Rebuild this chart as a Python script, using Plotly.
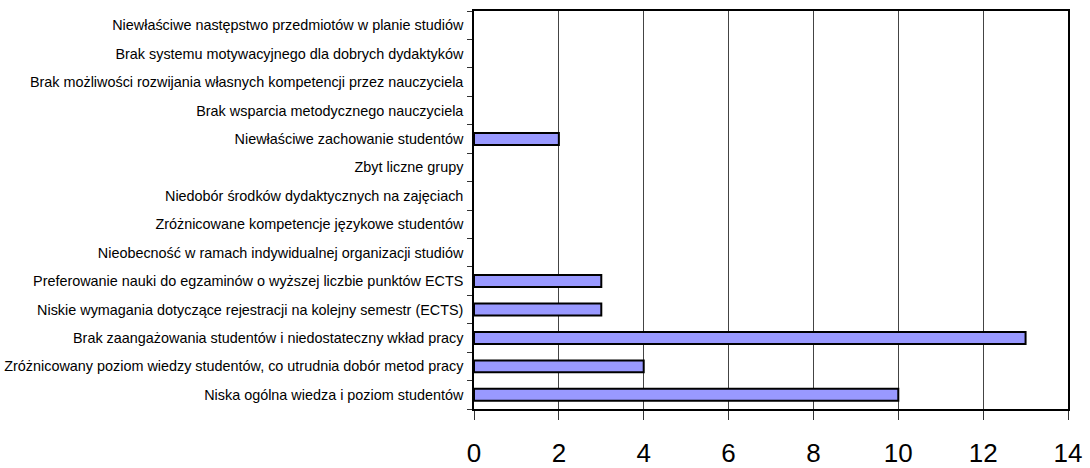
import plotly.graph_objects as go

# Categories listed bottom-to-top, as they appear on the vertical axis
categories = [
    "Niska ogólna wiedza i poziom studentów",
    "Zróżnicowany poziom wiedzy studentów, co utrudnia dobór metod pracy",
    "Brak zaangażowania studentów i niedostateczny wkład pracy",
    "Niskie wymagania dotyczące rejestracji na kolejny semestr (ECTS)",
    "Preferowanie nauki do egzaminów o wyższej liczbie punktów ECTS",
    "Nieobecność w ramach indywidualnej organizacji studiów",
    "Zróżnicowane kompetencje językowe studentów",
    "Niedobór środków dydaktycznych na zajęciach",
    "Zbyt liczne grupy",
    "Niewłaściwe zachowanie studentów",
    "Brak wsparcia metodycznego nauczyciela",
    "Brak możliwości rozwijania własnych kompetencji przez nauczyciela",
    "Brak systemu motywacyjnego dla dobrych dydaktyków",
    "Niewłaściwe następstwo przedmiotów w planie studiów",
]
counts = [10, 4, 13, 3, 3, 0, 0, 0, 0, 2, 0, 0, 0, 0]

x_ticks = [0, 2, 4, 6, 8, 10, 12, 14]

# empty rows get no outline so nothing is drawn on the axis line
outline_widths = [2 if c > 0 else 0 for c in counts]

fig = go.Figure(
    go.Bar(
        x=counts,
        y=categories,
        orientation="h",
        marker=dict(color="#9999FF", line=dict(color="#000000", width=outline_widths)),
        hoverinfo="x+y",
    )
)

fig.update_layout(
    width=1090,
    height=468,
    margin=dict(l=474, r=22, t=11, b=59),
    paper_bgcolor="#FFFFFF",
    plot_bgcolor="#FFFFFF",
    bargap=0.58,
    showlegend=False,
    font=dict(family="Liberation Sans, Arial, sans-serif", color="#000000"),
)

fig.update_xaxes(
    automargin=False,
    range=[0, 14],
    tickvals=x_ticks,
    ticktext=[str(v) for v in x_ticks],
    tickfont=dict(size=26, family="Liberation Sans, Arial, sans-serif"),
    ticks="outside",
    ticklen=9,
    tickwidth=1,
    tickcolor="#333333",
    ticklabelstandoff=11,
    showgrid=True,
    gridcolor="#444444",
    gridwidth=1,
    showline=True,
    linecolor="#000000",
    linewidth=1.5,
    mirror=True,
    zeroline=False,
    fixedrange=True,
)

fig.update_yaxes(
    automargin=False,
    type="category",
    categoryorder="array",
    categoryarray=categories,
    tickson="boundaries",
    ticks="outside",
    ticklen=5,
    tickwidth=1,
    tickcolor="#333333",
    ticklabelstandoff=6,
    tickfont=dict(size=14.4, family="Liberation Sans, Arial, sans-serif"),
    showgrid=False,
    showline=True,
    linecolor="#000000",
    linewidth=1.5,
    mirror=True,
    fixedrange=True,
)

fig.write_html("out.html")
